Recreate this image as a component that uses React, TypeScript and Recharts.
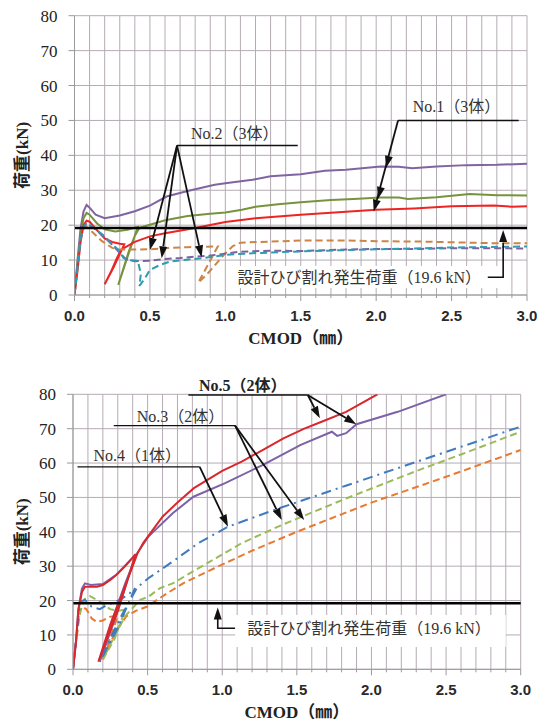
import React from 'react';
import { LineChart, Line, XAxis, YAxis, CartesianGrid, ReferenceLine } from 'recharts';

type Pt = [number, number];

// upper chart: No.1 solid lines, No.2 dashed lines  [CMOD mm, load kN]
const no1Purple: Pt[] = [[0, 0], [0.02, 10], [0.04, 19], [0.06, 24], [0.08, 25.8], [0.1, 25], [0.14, 23], [0.2, 22], [0.3, 22.8], [0.4, 24], [0.5, 25.6], [0.61, 28.2], [0.75, 29.8], [0.93, 31.6], [1.0, 32], [1.18, 33], [1.3, 34], [1.5, 34.6], [1.66, 35.6], [1.8, 35.9], [2.03, 36.8], [2.15, 36.7], [2.24, 36.3], [2.4, 36.8], [2.6, 37.2], [2.8, 37.3], [3.0, 37.6]];
const no1Green: Pt[] = [[0, 0], [0.02, 9], [0.04, 17], [0.06, 22], [0.08, 23.5], [0.1, 23], [0.15, 20.5], [0.2, 18.8], [0.27, 18.2], [0.35, 18.7], [0.42, 19.5], [0.36, 12], [0.29, 2.9], [0.32, 7], [0.36, 12.5], [0.4, 17], [0.43, 19.2], [0.5, 20.1], [0.6, 21.4], [0.75, 22.6], [0.9, 23.3], [1.0, 23.6], [1.11, 24.4], [1.2, 25.3], [1.35, 26], [1.5, 26.6], [1.7, 27.2], [1.85, 27.5], [2.03, 27.9], [2.15, 27.9], [2.21, 27.5], [2.4, 28], [2.62, 28.9], [2.8, 28.6], [3.0, 28.5]];
const no1Red: Pt[] = [[0, 0], [0.02, 7], [0.04, 15], [0.06, 20], [0.08, 21.3], [0.1, 21], [0.14, 19], [0.2, 16.2], [0.25, 15.2], [0.3, 14.7], [0.33, 14.5], [0.26, 8], [0.2, 3.1], [0.24, 6.5], [0.28, 10.5], [0.31, 13], [0.35, 14], [0.4, 15.2], [0.5, 16.8], [0.6, 17.7], [0.8, 19.2], [1.0, 20.9], [1.2, 22], [1.5, 23], [1.75, 23.7], [2.0, 24.4], [2.25, 24.8], [2.5, 25.4], [2.78, 25.6], [2.9, 25.3], [3.0, 25.4]];
const no2Orange: Pt[] = [[0, 0], [0.02, 8], [0.04, 16], [0.06, 19], [0.08, 19.5], [0.12, 18], [0.18, 15.5], [0.25, 13.5], [0.3, 13], [0.4, 13], [0.5, 13.1], [0.6, 13.4], [0.75, 13.7], [0.95, 13.9], [0.82, 3.5], [0.88, 6], [0.95, 9.5], [1.0, 12], [1.05, 14], [1.1, 15], [1.3, 15.3], [1.5, 15.6], [1.8, 15.6], [2.0, 15.4], [2.3, 15.3], [2.6, 15], [2.8, 14.8], [3.0, 14.8]];
const no2Teal: Pt[] = [[0, 0], [0.02, 8], [0.04, 16], [0.06, 19.5], [0.08, 20.6], [0.12, 19.5], [0.2, 16.8], [0.25, 14.5], [0.29, 13], [0.325, 10.6], [0.36, 10], [0.42, 9.8], [0.44, 6], [0.43, 2.6], [0.467, 4.8], [0.5, 7.2], [0.567, 8.6], [0.633, 9.6], [0.744, 10.1], [0.854, 10.6], [1.0, 11.5], [1.2, 12], [1.5, 12.5], [2.0, 13.1], [2.5, 13.6], [3.0, 13.9]];
const no2Purple: Pt[] = [[0, 0], [0.02, 8], [0.04, 16], [0.06, 19.5], [0.08, 20.3], [0.12, 19.5], [0.2, 16.5], [0.26, 14], [0.3, 12], [0.34, 10.3], [0.4, 9.7], [0.5, 9.8], [0.6, 10.3], [0.7, 10.6], [0.8, 11], [0.9, 11.3], [1.1, 12.4], [1.3, 12.7], [1.5, 12.6], [1.7, 12.9], [2.0, 13.2], [2.3, 13.2], [2.5, 13.4], [2.8, 13.4], [3.0, 13.3]];

// lower chart: No.5 solid, No.4 dash-dot, No.3 dashed
const no5Red: Pt[] = [[0, 0], [0.02, 8], [0.036, 17.2], [0.06, 22.5], [0.08, 24], [0.12, 24], [0.16, 24], [0.2, 24.5], [0.25, 26], [0.29, 27.4], [0.35, 30], [0.4, 32.5], [0.42, 33.5], [0.3, 17], [0.17, 2.2], [0.25, 13], [0.33, 22], [0.4, 30], [0.43, 33.5], [0.47, 36.7], [0.6, 44.4], [0.7, 48.5], [0.81, 52.7], [1.0, 57.7], [1.13, 60.4], [1.3, 64.5], [1.41, 67.2], [1.55, 70], [1.666, 72], [1.83, 74.9], [2.04, 80]];
const no5Purple: Pt[] = [[0, 0], [0.02, 8], [0.036, 17.5], [0.06, 23.5], [0.08, 25], [0.12, 24.5], [0.2, 24.8], [0.29, 27.5], [0.4, 32.5], [0.42, 33.5], [0.3, 17], [0.18, 2.4], [0.26, 14], [0.35, 25], [0.43, 33.8], [0.505, 38.6], [0.668, 45.4], [0.807, 50.2], [1.016, 54.1], [1.27, 59.4], [1.526, 65.3], [1.735, 69.1], [1.77, 67.9], [1.83, 68.7], [1.9, 71.3], [2.176, 74.9], [2.5, 80]];
const no4Blue: Pt[] = [[0, 0], [0.02, 8], [0.047, 19.7], [0.08, 20.2], [0.125, 18.2], [0.18, 17.5], [0.226, 18.7], [0.315, 20.2], [0.38, 22.1], [0.415, 23.6], [0.3, 12], [0.18, 2.2], [0.25, 9], [0.33, 16], [0.4, 21.5], [0.43, 23.8], [0.505, 26.5], [0.65, 30.8], [0.84, 36.7], [1.04, 41.5], [1.364, 46.6], [1.828, 53.4], [2.29, 60.2], [2.64, 65.3], [3.0, 70.6]];
const no3Green: Pt[] = [[0, 0], [0.02, 8], [0.05, 18], [0.08, 20.5], [0.114, 21.3], [0.18, 19.7], [0.248, 17.5], [0.3, 17], [0.35, 17.3], [0.28, 9], [0.2, 2.8], [0.27, 9], [0.35, 15.5], [0.45, 20.2], [0.505, 21.1], [0.583, 23.6], [0.668, 25], [0.877, 30.3], [1.13, 36.7], [1.4, 42], [1.83, 49.7], [2.29, 57.5], [2.6, 62.5], [3.0, 69.1]];
const no3Orange: Pt[] = [[0, 0], [0.02, 8], [0.04, 15], [0.058, 18.2], [0.09, 17.5], [0.125, 14.8], [0.16, 13.8], [0.2, 14.2], [0.248, 15.3], [0.3, 15.5], [0.24, 8], [0.19, 3], [0.24, 7], [0.3, 12], [0.36, 15.5], [0.42, 17], [0.494, 18.2], [0.63, 22.1], [0.738, 25], [0.947, 29.4], [1.2, 34.5], [1.5, 40], [2.0, 48.5], [2.5, 56], [3.0, 63.8]];

const cmodTicks = [0, 0.1, 0.2, 0.3, 0.4, 0.5, 0.6, 0.7, 0.8, 0.9, 1.0, 1.1, 1.2, 1.3, 1.4, 1.5, 1.6, 1.7, 1.8, 1.9, 2.0, 2.1, 2.2, 2.3, 2.4, 2.5, 2.6, 2.7, 2.8, 2.9, 3.0];
const loadTicks = [0, 10, 20, 30, 40, 50, 60, 70, 80];
const designLoad = 19.2;

const SERIF = '"Liberation Serif", "Noto Sans CJK JP", serif';
const SANS = '"Liberation Sans", Arial, sans-serif';
const GRID = '#b4acb4';

interface Frame { top: number; height: number; left: number; right: number; plotTop: number; plotBottom: number; }
const upper: Frame = { top: 0, height: 350, left: 74.5, right: 527, plotTop: 15.7, plotBottom: 295 };
const lower: Frame = { top: 360, height: 362, left: 73, right: 520.7, plotTop: 394.3, plotBottom: 669.3 };

const px = (f: Frame, x: number) => f.left + (x / 3) * (f.right - f.left);
const py = (f: Frame, y: number) => f.plotBottom - (y / 80) * (f.plotBottom - f.plotTop);

interface Series { pts: Pt[]; color: string; dash?: string; }

const upperSeries: Series[] = [
  { pts: no1Purple, color: '#8064A2' },
  { pts: no1Green, color: '#77933C' },
  { pts: no1Red, color: '#EE2424' },
  { pts: no2Orange, color: '#CC8447', dash: '7 4' },
  { pts: no2Purple, color: '#7F5FA0', dash: '7 4' },
  { pts: no2Teal, color: '#2E9BB0', dash: '7 4' },
];
const lowerSeries: Series[] = [
  { pts: no3Orange, color: '#E87A30', dash: '7 4' },
  { pts: no3Green, color: '#9BBB59', dash: '7 4' },
  { pts: no4Blue, color: '#3F7BBE', dash: '10 5 2 5' },
  { pts: no5Purple, color: '#7C62A6' },
  { pts: no5Red, color: '#D8282E' },
];

const XTick = (props: any) => {
  const { x, y, payload } = props;
  const v = payload.value as number;
  const major = Math.abs(v * 2 - Math.round(v * 2)) < 1e-6;
  return (
    <g>
      <line x1={x} x2={x} y1={y} y2={y + (major ? 6 : 3)} stroke="#9a9a9a" />
      {major && (
        <text x={x} y={y + 20} textAnchor="middle" dominantBaseline="central" fontFamily={SANS} fontSize={15} fontWeight="bold" fill="#2a2a2a">
          {v.toFixed(1)}
        </text>
      )}
    </g>
  );
};

const Chart = ({ f, series }: { f: Frame; series: Series[] }) => (
  <div style={{ position: 'absolute', left: 0, top: f.top }}>
    <LineChart width={543} height={f.height} margin={{ top: f.plotTop - f.top, right: 543 - f.right, bottom: 0, left: 0 }}>
      <CartesianGrid stroke={GRID} strokeWidth={1} vertical horizontal />
      <XAxis type="number" dataKey="x" domain={[0, 3]} ticks={cmodTicks} interval={0} allowDataOverflow
        height={f.top + f.height - f.plotBottom} tickSize={0} tickMargin={0} tickLine={false}
        axisLine={{ stroke: '#9a9a9a' }} tick={(p: any) => <XTick {...p} />} />
      <YAxis type="number" domain={[0, 80]} ticks={loadTicks} interval={0} allowDataOverflow width={f.left}
        tickSize={6} tickMargin={11} tickLine={{ stroke: '#9a9a9a' }} axisLine={{ stroke: '#9a9a9a' }}
        tick={{ fontFamily: SERIF, fontSize: 17, fill: '#222' }} />
      {series.map((s, i) => (
        <Line key={i} data={s.pts.map(([x, y]) => ({ x, y }))} dataKey="y" type="linear" stroke={s.color}
          strokeWidth={2} strokeDasharray={s.dash} dot={false} activeDot={false} isAnimationActive={false} />
      ))}
      <ReferenceLine y={designLoad} stroke="#000" strokeWidth={2.6} />
    </LineChart>
  </div>
);

const Arrow = ({ x1, y1, x2, y2, w = 1.8 }: { x1: number; y1: number; x2: number; y2: number; w?: number }) => {
  const a = Math.atan2(y2 - y1, x2 - x1);
  const L = 12, H = 4;
  const bx = x2 - L * Math.cos(a), by = y2 - L * Math.sin(a);
  const p = `${x2},${y2} ${bx + H * Math.sin(a)},${by - H * Math.cos(a)} ${bx - H * Math.sin(a)},${by + H * Math.cos(a)}`;
  return (
    <g>
      <line x1={x1} y1={y1} x2={bx} y2={by} stroke="#111" strokeWidth={w} />
      <polygon points={p} fill="#111" />
    </g>
  );
};

const Head = ({ x1, y1, x2, y2 }: { x1: number; y1: number; x2: number; y2: number }) => {
  const a = Math.atan2(y2 - y1, x2 - x1);
  const L = 12, H = 4;
  const bx = x2 - L * Math.cos(a), by = y2 - L * Math.sin(a);
  const p = `${x2},${y2} ${bx + H * Math.sin(a)},${by - H * Math.cos(a)} ${bx - H * Math.sin(a)},${by + H * Math.cos(a)}`;
  return <polygon points={p} fill="#111" />;
};

const textStyle = { fontFamily: SERIF, fontSize: 16, fill: '#333' };

const Overlay = () => {
  const U = upper, D = lower;
  return (
    <svg width={543} height={722} style={{ position: 'absolute', left: 0, top: 0, pointerEvents: 'none' }}>
      {/* axis titles */}
      {[U, D].map((f, i) => (
        <g key={i}>
          <text transform={`translate(22,${(f.plotTop + f.plotBottom) / 2}) rotate(-90)`} textAnchor="middle" dominantBaseline="central"
            fontFamily={SERIF} fontSize={17} fontWeight="bold" fill="#222">荷重(kN)</text>
          <text x={(f.left + f.right) / 2} y={f.plotBottom + 43} textAnchor="middle" dominantBaseline="central"
            fontFamily={SERIF} fontSize={17} fontWeight="bold" fill="#222">CMOD（㎜）</text>
        </g>
      ))}

      {/* upper: No.1 */}
      <line x1={px(U, 2.145)} y1={py(U, 50)} x2={px(U, 2.945)} y2={py(U, 50)} stroke="#111" strokeWidth={1.4} />
      <Arrow x1={px(U, 2.145)} y1={py(U, 50)} x2={px(U, 1.984)} y2={py(U, 23.9)} />
      <Head x1={px(U, 2.145)} y1={py(U, 50)} x2={px(U, 2.065)} y2={py(U, 36.4)} />
      <Head x1={px(U, 2.145)} y1={py(U, 50)} x2={px(U, 2.012)} y2={py(U, 27.5)} />
      <text x={px(U, 2.533)} y={py(U, 53.9)} textAnchor="middle" dominantBaseline="central" {...textStyle}>No.1（3体）</text>

      {/* upper: No.2 */}
      <line x1={px(U, 0.68)} y1={py(U, 42.8)} x2={px(U, 1.48)} y2={py(U, 42.8)} stroke="#111" strokeWidth={1.4} />
      <Arrow x1={px(U, 0.68)} y1={py(U, 42.8)} x2={px(U, 0.5)} y2={py(U, 12.9)} />
      <Arrow x1={px(U, 0.68)} y1={py(U, 42.8)} x2={px(U, 0.578)} y2={py(U, 10.5)} />
      <Arrow x1={px(U, 0.68)} y1={py(U, 42.8)} x2={px(U, 0.843)} y2={py(U, 10.8)} />
      <text x={px(U, 1.063)} y={py(U, 46.3)} textAnchor="middle" dominantBaseline="central" {...textStyle}>No.2（3体）</text>

      {/* upper: design load */}
      <rect x={px(U, 1.024)} y={py(U, 8.3)} width={px(U, 2.874) - px(U, 1.024)} height={py(U, 2.0) - py(U, 8.3)} fill="#fff" />
      <text x={px(U, 1.08)} y={py(U, 5.07)} dominantBaseline="central" {...textStyle}>設計ひび割れ発生荷重（19.6 kN）</text>
      <polyline points={`${px(U, 2.74)},${py(U, 5.07)} ${px(U, 2.842)},${py(U, 5.07)} ${px(U, 2.842)},${py(U, 15)}`} fill="none" stroke="#111" strokeWidth={1.6} />
      <Head x1={px(U, 2.842)} y1={py(U, 5.07)} x2={px(U, 2.842)} y2={py(U, 18.6)} />

      {/* lower: No.5 */}
      <line x1={px(D, 0.773)} y1={py(D, 79.8)} x2={px(D, 1.573)} y2={py(D, 79.8)} stroke="#111" strokeWidth={1.4} />
      <Arrow x1={px(D, 1.573)} y1={py(D, 79.8)} x2={px(D, 1.654)} y2={py(D, 73.0)} />
      <Arrow x1={px(D, 1.573)} y1={py(D, 79.8)} x2={px(D, 1.898)} y2={py(D, 71.3)} />
      <text x={px(D, 1.138)} y={py(D, 82.7)} textAnchor="middle" dominantBaseline="central" {...textStyle} fontWeight="bold" fill="#222">No.5（2体）</text>

      {/* lower: No.3 */}
      <line x1={px(D, 0.273)} y1={py(D, 70.9)} x2={px(D, 1.086)} y2={py(D, 70.9)} stroke="#111" strokeWidth={1.4} />
      <Arrow x1={px(D, 1.086)} y1={py(D, 70.9)} x2={px(D, 1.399)} y2={py(D, 43.4)} />
      <Arrow x1={px(D, 1.086)} y1={py(D, 70.9)} x2={px(D, 1.549)} y2={py(D, 43.4)} />
      <text x={px(D, 0.72)} y={py(D, 73.5)} textAnchor="middle" dominantBaseline="central" {...textStyle}>No.3（2体）</text>

      {/* lower: No.4 */}
      <line x1={px(D, 0.03)} y1={py(D, 58.9)} x2={px(D, 0.849)} y2={py(D, 58.9)} stroke="#111" strokeWidth={1.4} />
      <Arrow x1={px(D, 0.849)} y1={py(D, 58.9)} x2={px(D, 1.039)} y2={py(D, 41.5)} />
      <text x={px(D, 0.43)} y={py(D, 62.3)} textAnchor="middle" dominantBaseline="central" {...textStyle}>No.4（1体）</text>

      {/* lower: design load */}
      <rect x={px(D, 1.086)} y={py(D, 15.8)} width={px(D, 2.9) - px(D, 1.086)} height={py(D, 6.5) - py(D, 15.8)} fill="#fff" />
      <text x={px(D, 1.167)} y={py(D, 11.93)} dominantBaseline="central" {...textStyle}>設計ひび割れ発生荷重（19.6 kN）</text>
      <polyline points={`${px(D, 1.086)},${py(D, 11.93)} ${px(D, 0.97)},${py(D, 11.93)} ${px(D, 0.97)},${py(D, 15)}`} fill="none" stroke="#111" strokeWidth={1.6} />
      <Head x1={px(D, 0.97)} y1={py(D, 11.93)} x2={px(D, 0.97)} y2={py(D, 18.0)} />
    </svg>
  );
};

export default function App() {
  return (
    <div style={{ position: 'absolute', left: 0, top: 0, width: 543, height: 722, background: '#fff' }}>
      <Chart f={upper} series={upperSeries} />
      <Chart f={lower} series={lowerSeries} />
      <Overlay />
    </div>
  );
}
